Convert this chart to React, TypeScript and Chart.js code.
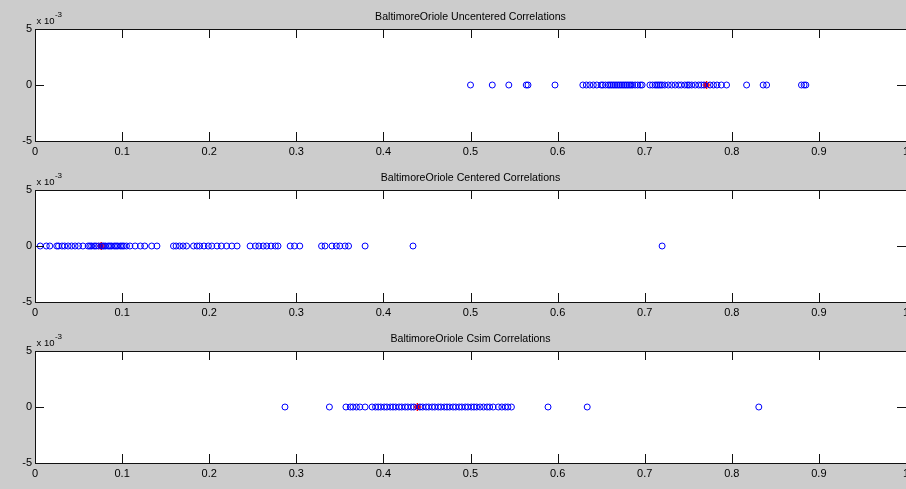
import React, { useEffect, useRef } from "react";
import { Chart, registerables } from "chart.js";

Chart.register(...registerables);

// ---------- data ----------
const xTicks = [0, 0.1, 0.2, 0.3, 0.4, 0.5, 0.6, 0.7, 0.8, 0.9, 1];
const yTicks = [-0.005, 0, 0.005];

const panelTitles = [
  "BaltimoreOriole Uncentered Correlations",
  "BaltimoreOriole Centered Correlations",
  "BaltimoreOriole Csim Correlations",
];

const uncenteredValues = [
  0.5, 0.525, 0.544, 0.564, 0.566, 0.597, 0.629, 0.633, 0.637, 0.641, 0.645,
  0.65, 0.652, 0.655, 0.658, 0.66, 0.662, 0.664, 0.666, 0.668, 0.67, 0.672,
  0.674, 0.676, 0.678, 0.68, 0.682, 0.684, 0.686, 0.689, 0.692, 0.695, 0.697,
  0.706, 0.709, 0.712, 0.714, 0.716, 0.718, 0.72, 0.723, 0.727, 0.731, 0.735,
  0.739, 0.742, 0.746, 0.749, 0.751, 0.754, 0.758, 0.762, 0.765, 0.768, 0.775,
  0.779, 0.783, 0.788, 0.794, 0.817, 0.836, 0.84, 0.88, 0.883, 0.885,
];
const uncenteredTarget = [0.771];

const centeredValues = [
  0.006, 0.013, 0.017, 0.025, 0.027, 0.031, 0.034, 0.038, 0.042, 0.046, 0.05,
  0.055, 0.061, 0.063, 0.065, 0.068, 0.07, 0.073, 0.077, 0.079, 0.081, 0.084,
  0.086, 0.088, 0.091, 0.093, 0.095, 0.098, 0.1, 0.102, 0.105, 0.109, 0.115,
  0.121, 0.126, 0.134, 0.14, 0.159, 0.162, 0.166, 0.17, 0.174, 0.182, 0.186,
  0.189, 0.194, 0.199, 0.203, 0.209, 0.214, 0.22, 0.226, 0.232, 0.247, 0.253,
  0.257, 0.262, 0.266, 0.271, 0.276, 0.279, 0.293, 0.298, 0.304, 0.329, 0.333,
  0.341, 0.346, 0.35, 0.356, 0.36, 0.379, 0.434, 0.72,
];
const centeredTarget = [0.076];

const csimValues = [
  0.287, 0.338, 0.357, 0.362, 0.365, 0.369, 0.373, 0.379, 0.387, 0.391, 0.394,
  0.397, 0.401, 0.404, 0.408, 0.411, 0.414, 0.418, 0.421, 0.425, 0.428, 0.432,
  0.435, 0.442, 0.445, 0.449, 0.452, 0.456, 0.459, 0.463, 0.466, 0.47, 0.473,
  0.476, 0.48, 0.483, 0.487, 0.49, 0.494, 0.497, 0.501, 0.504, 0.507, 0.511,
  0.515, 0.519, 0.522, 0.526, 0.532, 0.536, 0.54, 0.543, 0.547, 0.589, 0.634,
  0.831,
];
const csimTarget = [0.439];

const panelValues = [uncenteredValues, centeredValues, csimValues];
const panelTargets = [uncenteredTarget, centeredTarget, csimTarget];

// ---------- style ----------
const FONT = '"Liberation Sans", Arial, Helvetica, sans-serif';
const CANVAS_W = 906;
const CANVAS_H = 161;
const PLOT_TOP = 29;
const PLOT_LEFT = 35;
const PLOT_H = 112;
const TICK_LEN = 9;

const matlabAxes = {
  id: "matlabAxes",
  beforeDraw(chart: any) {
    const { ctx, chartArea } = chart;
    ctx.save();
    ctx.fillStyle = "#ffffff";
    ctx.fillRect(
      chartArea.left,
      chartArea.top,
      chartArea.right - chartArea.left,
      chartArea.bottom - chartArea.top
    );
    ctx.restore();
  },
  afterDraw(chart: any) {
    const { ctx, chartArea, scales } = chart;
    const { left, right, top, bottom } = chartArea;
    const xs = scales.x;
    const ys = scales.y;
    ctx.save();
    ctx.strokeStyle = "#111111";
    ctx.lineWidth = 1;
    ctx.beginPath();
    ctx.rect(left + 0.5, top + 0.5, right - left, bottom - top);
    ctx.stroke();
    ctx.beginPath();
    xTicks.forEach((v) => {
      const px = Math.round(xs.getPixelForValue(v)) + 0.5;
      ctx.moveTo(px, bottom);
      ctx.lineTo(px, bottom - TICK_LEN);
      ctx.moveTo(px, top);
      ctx.lineTo(px, top + TICK_LEN);
    });
    yTicks.forEach((v) => {
      const py = Math.round(ys.getPixelForValue(v)) + 0.5;
      ctx.moveTo(left, py);
      ctx.lineTo(left + TICK_LEN, py);
      ctx.moveTo(right, py);
      ctx.lineTo(right - TICK_LEN, py);
    });
    ctx.stroke();

    // title
    const title = chart.options.plugins.matlabAxes.title;
    ctx.fillStyle = "#000000";
    ctx.font = `10.6px ${FONT}`;
    ctx.textAlign = "center";
    ctx.textBaseline = "middle";
    ctx.fillText(title, (left + right) / 2, top - 12);

    // exponent label
    ctx.textAlign = "left";
    ctx.textBaseline = "alphabetic";
    ctx.font = `9.5px ${FONT}`;
    const base = "x 10";
    ctx.fillText(base, left + 1.5, top - 5);
    const w = ctx.measureText(base).width;
    ctx.font = `8px ${FONT}`;
    ctx.fillText("-3", left + 1.5 + w + 0.5, top - 12);
    ctx.restore();
  },
};

function Panel({ index }: { index: number }) {
  const ref = useRef<HTMLCanvasElement | null>(null);
  useEffect(() => {
    if (!ref.current) return;
    const chart = new Chart(ref.current, {
      type: "scatter",
      data: {
        datasets: [
          {
            data: panelValues[index].map((v) => ({ x: v, y: 0 })),
            pointStyle: "circle",
            pointRadius: 3,
            pointBorderWidth: 1,
            pointBorderColor: "#0000ff",
            pointBackgroundColor: "rgba(0,0,0,0)",
            pointHoverRadius: 3,
          },
          {
            data: panelTargets[index].map((v) => ({ x: v, y: 0 })),
            pointStyle: "star",
            pointRadius: 4,
            pointBorderWidth: 1.5,
            pointBorderColor: "#ff0000",
            pointBackgroundColor: "#ff0000",
            pointHoverRadius: 4,
          },
        ],
      },
      options: {
        animation: false,
        responsive: false,
        events: [],
        layout: {
          autoPadding: false,
          padding: { top: PLOT_TOP, left: 0, right: 0, bottom: 0 },
        },
        plugins: {
          legend: { display: false },
          tooltip: { enabled: false },
          title: { display: false },
          // @ts-ignore
          matlabAxes: { title: panelTitles[index] },
        },
        scales: {
          x: {
            type: "linear",
            position: "bottom",
            min: 0,
            max: 1,
            grid: { display: false, drawTicks: false },
            border: { display: false },
            afterBuildTicks: (s: any) => {
              s.ticks = xTicks.map((v) => ({ value: v }));
            },
            afterFit: (s: any) => {
              s.height = CANVAS_H - PLOT_TOP - PLOT_H;
              s.paddingLeft = 0;
              s.paddingRight = 0;
            },
            ticks: {
              padding: 4,
              maxRotation: 0,
              autoSkip: false,
              color: "#000000",
              font: { family: FONT, size: 11 },
              callback: (v: any) => String(Math.round(Number(v) * 10) / 10),
            },
          },
          y: {
            type: "linear",
            position: "left",
            min: -0.005,
            max: 0.005,
            grid: { display: false, drawTicks: false },
            border: { display: false },
            afterBuildTicks: (s: any) => {
              s.ticks = yTicks.map((v) => ({ value: v }));
            },
            afterFit: (s: any) => {
              s.width = PLOT_LEFT;
              s.paddingTop = 0;
              s.paddingBottom = 0;
            },
            ticks: {
              padding: 3,
              autoSkip: false,
              color: "#000000",
              font: { family: FONT, size: 11 },
              callback: (v: any) => String(Math.round(Number(v) * 1000)),
            },
          },
        },
      },
      plugins: [matlabAxes as any],
    });
    return () => chart.destroy();
  }, [index]);

  return (
    <canvas
      ref={ref}
      width={CANVAS_W}
      height={CANVAS_H}
      style={{
        position: "absolute",
        left: 0,
        top: index * CANVAS_H,
        width: CANVAS_W,
        height: CANVAS_H,
        display: "block",
      }}
    />
  );
}

export default function App() {
  return (
    <div
      style={{
        position: "fixed",
        left: 0,
        top: 0,
        width: 906,
        height: 489,
        overflow: "hidden",
        background: "#cccccc",
      }}
    >
      <Panel index={0} />
      <Panel index={1} />
      <Panel index={2} />
    </div>
  );
}
